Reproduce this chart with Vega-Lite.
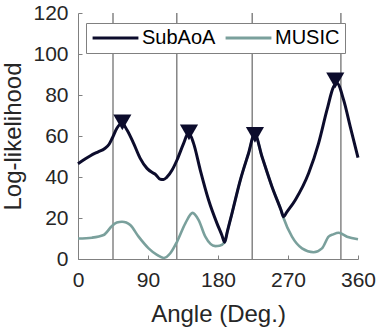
{
  "$schema": "https://vega.github.io/schema/vega-lite/v6.json",
  "autosize": {"type": "none"},
  "padding": {"left": 78, "top": 13, "right": 24, "bottom": 74},
  "width": 280,
  "height": 246,
  "background": "white",
  "config": {
    "view": {"stroke": null},
    "font": "Liberation Sans",
    "axis": {
      "grid": false,
      "domainColor": "#808080",
      "domainWidth": 1,
      "tickColor": "#808080",
      "tickSize": -4,
      "labelFlush": false,
      "labelFont": "Liberation Sans",
      "labelFontSize": 21,
      "labelColor": "#262626",
      "titleFont": "Liberation Sans",
      "titleFontSize": 24,
      "titleFontWeight": "normal",
      "titleColor": "#262626"
    }
  },
  "datasets": {
    "curves": [
      {"angle": 0, "value": 46.5, "method": "SubAoA"},
      {"angle": 8, "value": 48.5, "method": "SubAoA"},
      {"angle": 16, "value": 50.4, "method": "SubAoA"},
      {"angle": 26, "value": 52.3, "method": "SubAoA"},
      {"angle": 34, "value": 53.8, "method": "SubAoA"},
      {"angle": 40, "value": 56, "method": "SubAoA"},
      {"angle": 44, "value": 58.9, "method": "SubAoA"},
      {"angle": 50, "value": 63.8, "method": "SubAoA"},
      {"angle": 56.6, "value": 66.2, "method": "SubAoA"},
      {"angle": 63, "value": 62.9, "method": "SubAoA"},
      {"angle": 71.5, "value": 56.4, "method": "SubAoA"},
      {"angle": 80, "value": 49.1, "method": "SubAoA"},
      {"angle": 88.7, "value": 44.2, "method": "SubAoA"},
      {"angle": 95, "value": 42.3, "method": "SubAoA"},
      {"angle": 99, "value": 41.5, "method": "SubAoA"},
      {"angle": 105.8, "value": 38.9, "method": "SubAoA"},
      {"angle": 110, "value": 38.8, "method": "SubAoA"},
      {"angle": 114, "value": 39.8, "method": "SubAoA"},
      {"angle": 121, "value": 43.4, "method": "SubAoA"},
      {"angle": 127.3, "value": 48.3, "method": "SubAoA"},
      {"angle": 135.8, "value": 56.4, "method": "SubAoA"},
      {"angle": 142.2, "value": 61.6, "method": "SubAoA"},
      {"angle": 148.6, "value": 56.4, "method": "SubAoA"},
      {"angle": 157.2, "value": 43.4, "method": "SubAoA"},
      {"angle": 167.9, "value": 28.8, "method": "SubAoA"},
      {"angle": 178.7, "value": 17.4, "method": "SubAoA"},
      {"angle": 185, "value": 11.6, "method": "SubAoA"},
      {"angle": 188.5, "value": 8.2, "method": "SubAoA"},
      {"angle": 192, "value": 13.4, "method": "SubAoA"},
      {"angle": 198, "value": 22.3, "method": "SubAoA"},
      {"angle": 208.7, "value": 38.5, "method": "SubAoA"},
      {"angle": 219.3, "value": 51.6, "method": "SubAoA"},
      {"angle": 227.1, "value": 61.0, "method": "SubAoA"},
      {"angle": 236.6, "value": 49.9, "method": "SubAoA"},
      {"angle": 249.4, "value": 35.3, "method": "SubAoA"},
      {"angle": 261, "value": 23.9, "method": "SubAoA"},
      {"angle": 264.3, "value": 20.6, "method": "SubAoA"},
      {"angle": 268, "value": 22.6, "method": "SubAoA"},
      {"angle": 279.4, "value": 28.8, "method": "SubAoA"},
      {"angle": 296.5, "value": 41.8, "method": "SubAoA"},
      {"angle": 309.3, "value": 56.4, "method": "SubAoA"},
      {"angle": 320.1, "value": 72.7, "method": "SubAoA"},
      {"angle": 328.6, "value": 84, "method": "SubAoA"},
      {"angle": 333, "value": 85.7, "method": "SubAoA"},
      {"angle": 341.5, "value": 77.6, "method": "SubAoA"},
      {"angle": 350.1, "value": 64.5, "method": "SubAoA"},
      {"angle": 360, "value": 49.5, "method": "SubAoA"},
      {"angle": 0, "value": 10, "method": "MUSIC"},
      {"angle": 18, "value": 10.4, "method": "MUSIC"},
      {"angle": 32.9, "value": 11.7, "method": "MUSIC"},
      {"angle": 43.7, "value": 16.1, "method": "MUSIC"},
      {"angle": 50, "value": 17.8, "method": "MUSIC"},
      {"angle": 56.6, "value": 18.2, "method": "MUSIC"},
      {"angle": 62, "value": 17.8, "method": "MUSIC"},
      {"angle": 67.2, "value": 16.6, "method": "MUSIC"},
      {"angle": 77.9, "value": 10.9, "method": "MUSIC"},
      {"angle": 90.8, "value": 5.2, "method": "MUSIC"},
      {"angle": 101.6, "value": 2, "method": "MUSIC"},
      {"angle": 110.1, "value": 0.5, "method": "MUSIC"},
      {"angle": 118.7, "value": 2.8, "method": "MUSIC"},
      {"angle": 127.3, "value": 8.4, "method": "MUSIC"},
      {"angle": 138, "value": 17.4, "method": "MUSIC"},
      {"angle": 147.3, "value": 22.5, "method": "MUSIC"},
      {"angle": 155.1, "value": 19, "method": "MUSIC"},
      {"angle": 163.7, "value": 10.9, "method": "MUSIC"},
      {"angle": 176.5, "value": 6.3, "method": "MUSIC"},
      {"angle": 182, "value": 6.5, "method": "MUSIC"},
      {"angle": 188.5, "value": 8.2, "method": "MUSIC"},
      {"angle": 192, "value": 13.4, "method": "MUSIC"},
      {"angle": 198, "value": 22.3, "method": "MUSIC"},
      {"angle": 208.7, "value": 38.5, "method": "MUSIC"},
      {"angle": 219.3, "value": 51.6, "method": "MUSIC"},
      {"angle": 227.1, "value": 61.0, "method": "MUSIC"},
      {"angle": 236.6, "value": 49.9, "method": "MUSIC"},
      {"angle": 249.4, "value": 35.3, "method": "MUSIC"},
      {"angle": 261, "value": 23.9, "method": "MUSIC"},
      {"angle": 264.3, "value": 20.0, "method": "MUSIC"},
      {"angle": 275.1, "value": 10.9, "method": "MUSIC"},
      {"angle": 288, "value": 5.2, "method": "MUSIC"},
      {"angle": 302.9, "value": 3.3, "method": "MUSIC"},
      {"angle": 313.7, "value": 5.2, "method": "MUSIC"},
      {"angle": 322.2, "value": 10.9, "method": "MUSIC"},
      {"angle": 328, "value": 12.0, "method": "MUSIC"},
      {"angle": 335.1, "value": 12.8, "method": "MUSIC"},
      {"angle": 345.9, "value": 10.9, "method": "MUSIC"},
      {"angle": 360, "value": 9.6, "method": "MUSIC"}
    ],
    "truth": [
      {"angle": 45}, {"angle": 127}, {"angle": 224}, {"angle": 338}
    ],
    "peaks": [
      {"angle": 57, "value": 66.6},
      {"angle": 142.7, "value": 61.8},
      {"angle": 227.5, "value": 60.5},
      {"angle": 330.8, "value": 87.1}
    ]
  },
  "layer": [
    {
      "data": {"name": "truth"},
      "mark": {"type": "rule", "color": "#858585", "strokeWidth": 1.5},
      "encoding": {
        "x": {
          "field": "angle", "type": "quantitative",
          "scale": {"domain": [0, 360], "nice": false, "zero": false},
          "axis": {
            "title": "Angle (Deg.)",
            "values": [0, 45, 90, 135, 180, 225, 270, 315, 360],
            "labelExpr": "datum.value % 90 === 0 ? datum.label : ''",
            "labelPadding": 14,
            "titlePadding": 12
          }
        }
      }
    },
    {
      "data": {"name": "curves"},
      "transform": [{"filter": "datum.method === 'MUSIC'"}],
      "mark": {"type": "line", "interpolate": "monotone", "strokeWidth": 2.6},
      "encoding": {
        "x": {"field": "angle", "type": "quantitative"},
        "y": {
          "field": "value", "type": "quantitative",
          "scale": {"domain": [0, 120], "nice": false},
          "axis": {
            "title": "Log-likelihood",
            "values": [0, 20, 40, 60, 80, 100, 120],
            "labelPadding": 14,
            "titlePadding": 7
          }
        },
        "color": {
          "field": "method", "type": "nominal",
          "scale": {"domain": ["SubAoA", "MUSIC"], "range": ["#0c0c2c", "#7aa09c"]},
          "legend": {
            "title": null,
            "orient": "none",
            "legendX": 8,
            "legendY": 10,
            "direction": "horizontal",
            "symbolType": "stroke",
            "symbolSize": 2100,
            "symbolStrokeWidth": 3,
            "clipHeight": 20,
            "labelFont": "Liberation Sans",
            "labelFontSize": 20,
            "labelColor": "#000000",
            "labelOffset": 2,
            "columnPadding": 8,
            "padding": 5,
            "strokeColor": "#808080",
            "fillColor": "white",
            "cornerRadius": 0
          }
        }
      }
    },
    {
      "data": {"name": "curves"},
      "transform": [{"filter": "datum.method === 'SubAoA'"}],
      "mark": {"type": "line", "interpolate": "monotone", "strokeWidth": 3},
      "encoding": {
        "x": {"field": "angle", "type": "quantitative"},
        "y": {"field": "value", "type": "quantitative"},
        "color": {"field": "method", "type": "nominal"}
      }
    },
    {
      "data": {"name": "peaks"},
      "mark": {"type": "point", "shape": "triangle-down", "filled": true, "color": "#0c0c2c", "size": 330, "opacity": 1},
      "encoding": {
        "x": {"field": "angle", "type": "quantitative"},
        "y": {"field": "value", "type": "quantitative"}
      }
    }
  ]
}
